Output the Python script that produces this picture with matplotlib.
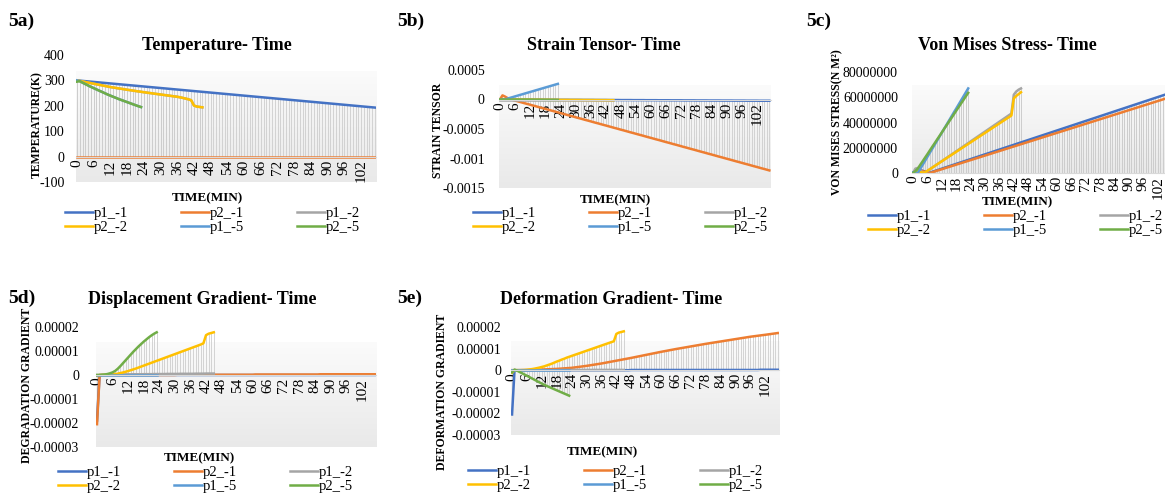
import numpy as np
import matplotlib
matplotlib.use('Agg')
import matplotlib.pyplot as plt
from matplotlib.colors import LinearSegmentedColormap

plt.rcParams['font.family'] = ['Liberation Serif', 'DejaVu Serif']

# ---- categories (minutes) ----
minutes = list(range(108))
x_ticks = list(range(0, 103, 6))
x_tick_labels = [str(t) for t in x_ticks]

series_names = ['p1_-1', 'p2_-1', 'p1_-2', 'p2_-2', 'p1_-5', 'p2_-5']
series_colors = ['#4472C4', '#ED7D31', '#A5A5A5', '#FFC000', '#5B9BD5', '#70AD47']

# ---- 5a temperature (K) ----
temp_p1_1 = [300, 299, 298, 297, 296, 295, 294, 293, 292, 291, 290, 289,
             288, 287, 286, 285, 284, 283, 282, 281, 280, 279, 278, 277,
             276, 275, 274, 273, 272, 271, 270, 269, 268, 267, 266, 265,
             264, 263, 262, 261, 260, 259, 258, 257, 256, 255, 254, 253,
             252, 251, 250, 249, 248, 247, 246, 245, 244, 243, 242, 241,
             240, 239, 238, 237, 236, 235, 234, 233, 232, 231, 230, 229,
             228, 227, 226, 225, 224, 223, 222, 221, 220, 219, 218, 217,
             216, 215, 214, 213, 212, 211, 210, 209, 208, 207, 206, 205,
             204, 203, 202, 201, 200, 199, 198, 197, 196, 195, 194, 193]
temp_p2_1 = [0, 0, 0, 0, 0, 0, 0, 0, 0, 0, 0, 0,
             0, 0, 0, 0, 0, 0, 0, 0, 0, 0, 0, 0,
             0, 0, 0, 0, 0, 0, 0, 0, 0, 0, 0, 0,
             0, 0, 0, 0, 0, 0, 0, 0, 0, 0, 0, 0,
             0, 0, 0, 0, 0, 0, 0, 0, 0, 0, 0, 0,
             0, 0, 0, 0, 0, 0, 0, 0, 0, 0, 0, 0,
             0, 0, 0, 0, 0, 0, 0, 0, 0, 0, 0, 0,
             0, 0, 0, 0, 0, 0, 0, 0, 0, 0, 0, 0,
             0, 0, 0, 0, 0, 0, 0, 0, 0, 0, 0, 0]
temp_p1_2 = [300, 298, 295.8, 293.6, 291.4, 289.2, 287, 284.8, 282.6, 280.4,
             278.2, 276, 273.8, 272, 270.2, 268.5, 266.8, 265, 263.3, 261.6,
             260, 258.3, 256.7, 255.1, 253.5, 252, 250.5, 249, 247.5, 246,
             244.5, 243, 241.5, 240, 238.5, 237, 235.5, 233.5, 231, 228.5,
             225.5, 222, 201, 197, 195.5, 194]
temp_p2_2 = [300, 298, 295.8, 293.6, 291.4, 289.2, 287, 284.8, 282.6, 280.4,
             278.2, 276, 273.8, 272, 270.2, 268.5, 266.8, 265, 263.3, 261.6,
             260, 258.3, 256.7, 255.1, 253.5, 252, 250.5, 249, 247.5, 246,
             244.5, 243, 241.5, 240, 238.5, 237, 235.5, 233.5, 231, 228.5,
             225.5, 222, 201, 197, 195.5, 194]
temp_p1_5 = [300, 297, 291, 285.5, 280, 274.5, 269.5, 264.5, 259.5, 254.5,
             249.5, 244.5, 240, 235.5, 231, 226.5, 222.5, 218.5, 214.5, 210.5,
             206.5, 202.5, 198.5, 195]
temp_p2_5 = [295, 297, 291, 285.5, 280, 274.5, 269.5, 264.5, 259.5, 254.5,
             249.5, 244.5, 240, 235.5, 231, 226.5, 222.5, 218.5, 214.5, 210.5,
             206.5, 202.5, 198.5, 195]

# ---- 5b strain tensor (x 1e-4) ----
strain_p1_1 = [0.00, 0.00, 0.00, -0.01, -0.01, -0.01, -0.01, -0.01, -0.02, -0.02,
               -0.02, -0.02, -0.02, -0.03, -0.03, -0.03, -0.03, -0.03, -0.04, -0.04,
               -0.04, -0.04, -0.04, -0.05, -0.05, -0.05, -0.05, -0.05, -0.06, -0.06,
               -0.06, -0.06, -0.06, -0.07, -0.07, -0.07, -0.07, -0.07, -0.08, -0.08,
               -0.08, -0.08, -0.08, -0.09, -0.09, -0.09, -0.09, -0.09, -0.10, -0.10,
               -0.10, -0.10, -0.10, -0.11, -0.11, -0.11, -0.11, -0.11, -0.12, -0.12,
               -0.12, -0.12, -0.12, -0.13, -0.13, -0.13, -0.13, -0.13, -0.14, -0.14,
               -0.14, -0.14, -0.14, -0.15, -0.15, -0.15, -0.15, -0.15, -0.16, -0.16,
               -0.16, -0.16, -0.16, -0.17, -0.17, -0.17, -0.17, -0.17, -0.18, -0.18,
               -0.18, -0.18, -0.18, -0.19, -0.19, -0.19, -0.19, -0.19, -0.20, -0.20,
               -0.20, -0.20, -0.20, -0.21, -0.21, -0.21, -0.21, -0.21]
strain_p2_1 = [0.00, 0.70, 0.50, 0.25, 0.05, -0.07, -0.19, -0.30, -0.42, -0.54,
               -0.66, -0.77, -0.89, -1.01, -1.12, -1.24, -1.36, -1.48, -1.59, -1.71,
               -1.83, -1.94, -2.06, -2.18, -2.30, -2.41, -2.53, -2.65, -2.76, -2.88,
               -3.00, -3.12, -3.23, -3.35, -3.47, -3.58, -3.70, -3.82, -3.94, -4.05,
               -4.17, -4.29, -4.40, -4.52, -4.64, -4.76, -4.87, -4.99, -5.11, -5.22,
               -5.34, -5.46, -5.58, -5.69, -5.81, -5.93, -6.04, -6.16, -6.28, -6.40,
               -6.51, -6.63, -6.75, -6.86, -6.98, -7.10, -7.22, -7.33, -7.45, -7.57,
               -7.68, -7.80, -7.92, -8.04, -8.15, -8.27, -8.39, -8.50, -8.62, -8.74,
               -8.86, -8.97, -9.09, -9.21, -9.32, -9.44, -9.56, -9.68, -9.79, -9.91,
               -10.03, -10.14, -10.26, -10.38, -10.50, -10.61, -10.73, -10.85, -10.96, -11.08,
               -11.20, -11.32, -11.43, -11.55, -11.67, -11.78, -11.90, -12.02]
strain_p1_2 = [0.00, 0.00, 0.00, 0.00, 0.00, 0.00, 0.00, 0.00, 0.00, 0.00,
               0.00, 0.00, 0.00, 0.00, 0.00, 0.00, 0.00, 0.00, 0.00, 0.00,
               0.00, 0.00, 0.00, 0.00, 0.00, 0.00, 0.00, 0.00, 0.00, 0.00,
               0.00, 0.00, 0.00, 0.00, 0.00, 0.00, 0.00, 0.00, 0.00, 0.00,
               0.00, 0.00, 0.00, 0.00, 0.00, 0.00]
strain_p2_2 = [0.00, 0.00, 0.00, 0.00, -0.01, -0.01, -0.01, -0.01, -0.02, -0.02,
               -0.02, -0.02, -0.03, -0.03, -0.03, -0.03, -0.04, -0.04, -0.04, -0.04,
               -0.05, -0.05, -0.05, -0.05, -0.06, -0.06, -0.06, -0.06, -0.07, -0.07,
               -0.07, -0.07, -0.08, -0.08, -0.08, -0.08, -0.09, -0.09, -0.09, -0.09,
               -0.10, -0.10, -0.10, -0.10, -0.11, -0.11]
strain_p1_5 = [0.00, 0.00, 0.02, 0.15, 0.28, 0.40, 0.53, 0.65, 0.78, 0.90,
               1.03, 1.15, 1.28, 1.40, 1.53, 1.65, 1.78, 1.90, 2.03, 2.15,
               2.28, 2.40, 2.53, 2.65]
strain_p2_5 = [0.00, 0.00, -0.01, -0.01, -0.01, -0.02, -0.02, -0.02, -0.03, -0.03,
               -0.03, -0.04, -0.04, -0.04, -0.05, -0.05, -0.05, -0.06, -0.06, -0.06,
               -0.07, -0.07, -0.07, -0.08]

# ---- 5c von mises stress (x 1e6 N/m2) ----
vm_p1_1 = [0.0, 2.0, 2.5, 2.2, 1.8, 1.2, 0.7, 0.3, 0.93, 1.56,
           2.19, 2.82, 3.45, 4.08, 4.71, 5.34, 5.97, 6.60, 7.23, 7.86,
           8.49, 9.12, 9.75, 10.38, 11.01, 11.64, 12.27, 12.90, 13.53, 14.16,
           14.79, 15.42, 16.05, 16.68, 17.31, 17.94, 18.57, 19.20, 19.83, 20.46,
           21.09, 21.72, 22.35, 22.98, 23.61, 24.24, 24.87, 25.50, 26.13, 26.76,
           27.39, 28.02, 28.65, 29.28, 29.91, 30.54, 31.17, 31.80, 32.43, 33.06,
           33.69, 34.32, 34.95, 35.58, 36.21, 36.84, 37.47, 38.10, 38.73, 39.36,
           39.99, 40.62, 41.25, 41.88, 42.51, 43.14, 43.77, 44.40, 45.03, 45.66,
           46.29, 46.92, 47.55, 48.18, 48.81, 49.44, 50.07, 50.70, 51.33, 51.96,
           52.59, 53.22, 53.85, 54.48, 55.11, 55.74, 56.37, 57.00, 57.63, 58.26,
           58.89, 59.52, 60.15, 60.78, 61.41, 62.04, 62.67, 63.30]
vm_p2_1 = [0.0, 1.8, 2.2, 2.0, 1.5, 1.0, 0.5, 0.0, 0.6, 1.2,
           1.8, 2.4, 3.0, 3.6, 4.2, 4.8, 5.4, 6.0, 6.6, 7.2,
           7.8, 8.4, 9.0, 9.6, 10.2, 10.8, 11.4, 12.0, 12.6, 13.2,
           13.8, 14.4, 15.0, 15.6, 16.2, 16.8, 17.4, 18.0, 18.6, 19.2,
           19.8, 20.4, 21.0, 21.6, 22.2, 22.8, 23.4, 24.0, 24.6, 25.2,
           25.8, 26.4, 27.0, 27.6, 28.2, 28.8, 29.4, 30.0, 30.6, 31.2,
           31.8, 32.4, 33.0, 33.6, 34.2, 34.8, 35.4, 36.0, 36.6, 37.2,
           37.8, 38.4, 39.0, 39.6, 40.2, 40.8, 41.4, 42.0, 42.6, 43.2,
           43.8, 44.4, 45.0, 45.6, 46.2, 46.8, 47.4, 48.0, 48.6, 49.2,
           49.8, 50.4, 51.0, 51.6, 52.2, 52.8, 53.4, 54.0, 54.6, 55.2,
           55.8, 56.4, 57.0, 57.6, 58.2, 58.8, 59.4, 60.0]
vm_p1_2 = [0.0, 3.5, 4.0, 2.0, 0.5, 0.3, 1.6, 2.9, 4.2, 5.5,
           6.8, 8.1, 9.4, 10.7, 12.0, 13.3, 14.6, 15.9, 17.2, 18.5,
           19.8, 21.1, 22.4, 23.7, 25.0, 26.3, 27.6, 28.9, 30.2, 31.5,
           32.8, 34.1, 35.4, 36.7, 38.0, 39.3, 40.6, 41.9, 43.2, 44.5,
           45.8, 47.1, 62.0, 64.5, 66.0, 67.0]
vm_p2_2 = [0.0, 1.0, 1.5, 0.8, 0.3, 0.5, 1.75, 3.0, 4.25, 5.5,
           6.75, 8.0, 9.25, 10.5, 11.75, 13.0, 14.25, 15.5, 16.75, 18.0,
           19.25, 20.5, 21.75, 23.0, 24.25, 25.5, 26.75, 28.0, 29.25, 30.5,
           31.75, 33.0, 34.25, 35.5, 36.75, 38.0, 39.25, 40.5, 41.75, 43.0,
           44.25, 45.5, 59.0, 61.0, 62.5, 64.0]
vm_p1_5 = [0.5, 0.2, 0.0, 3.2, 6.4, 9.6, 12.8, 16.0, 19.1, 22.3,
           25.5, 28.7, 31.9, 35.1, 38.3, 41.5, 44.7, 47.9, 51.0, 54.2,
           57.4, 60.6, 63.8, 67.0]
vm_p2_5 = [0.0, 1.5, 3.5, 6.4, 9.2, 12.1, 14.9, 17.8, 20.7, 23.5,
           26.4, 29.2, 32.1, 35.0, 37.8, 40.7, 43.5, 46.4, 49.3, 52.1,
           55.0, 57.8, 60.7, 63.5]

# ---- 5d displacement gradient (x 1e-6) ----
disp_p1_1 = [-19.0, 0.0, 0.0, 0.0, 0.0, 0.0, 0.0, 0.0, 0.0, 0.0, 0.0, 0.0,
             0.0, 0.0, 0.0, 0.0, 0.0, 0.0, 0.0, 0.0, 0.0, 0.0, 0.0, 0.0,
             0.0, 0.0, 0.0, 0.0, 0.0, 0.0, 0.0, 0.0, 0.0, 0.0, 0.0, 0.0,
             0.0, 0.0, 0.0, 0.0, 0.0, 0.0, 0.0, 0.0, 0.0, 0.0, 0.0, 0.0,
             0.0, 0.0, 0.0, 0.0, 0.0, 0.0, 0.0, 0.0, 0.0, 0.0, 0.0, 0.0,
             0.0, 0.0, 0.0, 0.0, 0.0, 0.0, 0.0, 0.0, 0.0, 0.0, 0.0, 0.0,
             0.0, 0.0, 0.0, 0.0, 0.0, 0.0, 0.0, 0.0, 0.0, 0.0, 0.0, 0.0,
             0.0, 0.0, 0.0, 0.0, 0.0, 0.0, 0.0, 0.0, 0.0, 0.0, 0.0, 0.0,
             0.0, 0.0, 0.0, 0.0, 0.0, 0.0, 0.0, 0.0, 0.0, 0.0, 0.0, 0.0]
disp_p2_1 = [-20.5, -0.2, 0.0, 0.0, 0.0, 0.0, 0.0, 0.0, 0.0, 0.0, 0.0, 0.0,
             0.0, 0.0, 0.0, 0.0, 0.0, 0.0, 0.0, 0.0, 0.0, 0.0, 0.0, 0.0,
             0.0, 0.0, 0.0, 0.0, 0.0, 0.0, 0.0, 0.1, 0.1, 0.1, 0.1, 0.1,
             0.1, 0.1, 0.1, 0.1, 0.1, 0.1, 0.1, 0.1, 0.1, 0.1, 0.1, 0.1,
             0.1, 0.1, 0.1, 0.1, 0.1, 0.1, 0.1, 0.1, 0.1, 0.1, 0.1, 0.1,
             0.1, 0.2, 0.2, 0.2, 0.2, 0.2, 0.2, 0.2, 0.2, 0.2, 0.2, 0.2,
             0.2, 0.2, 0.2, 0.2, 0.2, 0.2, 0.2, 0.2, 0.2, 0.2, 0.2, 0.2,
             0.2, 0.2, 0.3, 0.3, 0.3, 0.3, 0.3, 0.3, 0.3, 0.3, 0.3, 0.3,
             0.3, 0.3, 0.3, 0.3, 0.3, 0.3, 0.3, 0.3, 0.3, 0.3, 0.3, 0.3]
disp_p1_2 = [0.0, 0.0, 0.0, 0.05, 0.1, 0.1, 0.15, 0.15, 0.2, 0.2,
             0.2, 0.25, 0.25, 0.25, 0.3, 0.3, 0.3, 0.3, 0.35, 0.35,
             0.35, 0.35, 0.4, 0.4, 0.4, 0.4, 0.4, 0.45, 0.45, 0.45,
             0.45, 0.45, 0.5, 0.5, 0.5, 0.5, 0.5, 0.5, 0.55, 0.55,
             0.55, 0.55, 0.6, 0.6, 0.6, 0.6]
disp_p2_2 = [-0.3, 0.0, 0.0, 0.0, 0.05, 0.1, 0.2, 0.35, 0.55, 0.8,
             1.05, 1.35, 1.65, 2.0, 2.35, 2.7, 3.1, 3.5, 3.9, 4.3,
             4.7, 5.1, 5.5, 5.9, 6.3, 6.7, 7.1, 7.5, 7.9, 8.3,
             8.7, 9.1, 9.5, 9.9, 10.3, 10.7, 11.1, 11.5, 11.9, 12.3,
             12.7, 13.2, 16.6, 17.2, 17.5, 17.8]
disp_p1_5 = [0.0, 0.0, 0.0, 0.0, 0.0, 0.0, 0.0, 0.0, 0.0, 0.0,
             0.0, 0.0, 0.0, 0.0, 0.0, 0.0, 0.0, 0.0, 0.0, 0.0,
             0.0, 0.0, 0.0, 0.0]
disp_p2_5 = [0.0, 0.0, 0.1, 0.2, 0.4, 0.7, 1.1, 1.7, 2.6, 3.7,
             4.9, 6.1, 7.3, 8.5, 9.7, 10.8, 11.9, 12.9, 13.9, 14.8,
             15.7, 16.5, 17.2, 17.8]

# ---- 5e deformation gradient (x 1e-6) ----
def_p1_1 = [-20.5, 0.0, 0.0, 0.0, 0.0, 0.0, 0.0, 0.0, 0.0, 0.0, 0.0, 0.0,
            0.0, 0.0, 0.0, 0.0, 0.0, 0.0, 0.0, 0.0, 0.0, 0.0, 0.0, 0.0,
            0.0, 0.0, 0.0, 0.0, 0.0, 0.0, 0.0, 0.0, 0.0, 0.0, 0.0, 0.0,
            0.0, 0.0, 0.0, 0.0, 0.0, 0.0, 0.0, 0.0, 0.0, 0.0, 0.0, 0.0,
            0.1, 0.1, 0.1, 0.1, 0.1, 0.1, 0.1, 0.1, 0.1, 0.1, 0.1, 0.1,
            0.1, 0.1, 0.1, 0.1, 0.1, 0.1, 0.1, 0.1, 0.1, 0.1, 0.1, 0.1,
            0.1, 0.1, 0.1, 0.1, 0.1, 0.1, 0.1, 0.1, 0.1, 0.1, 0.1, 0.1,
            0.1, 0.1, 0.1, 0.1, 0.1, 0.1, 0.1, 0.1, 0.1, 0.1, 0.1, 0.1,
            0.1, 0.1, 0.1, 0.1, 0.2, 0.2, 0.2, 0.2, 0.2, 0.2, 0.2, 0.2]
def_p2_1 = [0.00, 0.00, 0.01, 0.02, 0.03, 0.04,
            0.05, 0.08, 0.12, 0.17, 0.21, 0.25,
            0.30, 0.35, 0.40, 0.45, 0.50, 0.55,
            0.60, 0.68, 0.76, 0.85, 0.93, 1.01,
            1.10, 1.25, 1.40, 1.55, 1.70, 1.85,
            2.00, 2.18, 2.37, 2.55, 2.73, 2.92,
            3.10, 3.32, 3.53, 3.75, 3.97, 4.18,
            4.40, 4.62, 4.83, 5.05, 5.27, 5.48,
            5.70, 5.93, 6.17, 6.40, 6.63, 6.87,
            7.10, 7.33, 7.57, 7.80, 8.03, 8.27,
            8.50, 8.72, 8.93, 9.15, 9.37, 9.58,
            9.80, 10.00, 10.20, 10.40, 10.60, 10.80,
            11.00, 11.20, 11.40, 11.60, 11.80, 12.00,
            12.20, 12.38, 12.57, 12.75, 12.93, 13.12,
            13.30, 13.48, 13.67, 13.85, 14.03, 14.22,
            14.40, 14.58, 14.77, 14.95, 15.13, 15.32,
            15.50, 15.65, 15.80, 15.95, 16.10, 16.25,
            16.40, 16.56, 16.72, 16.88, 17.04, 17.20]
def_p1_2 = [0.0, 0.0, 0.0, 0.0, 0.0, 0.0, 0.0, 0.0, 0.0, 0.0,
            0.0, 0.0, 0.0, 0.0, 0.0, 0.0, 0.0, 0.0, 0.0, 0.0,
            0.1, 0.1, 0.1, 0.1, 0.1, 0.1, 0.1, 0.1, 0.1, 0.1,
            0.1, 0.1, 0.1, 0.1, 0.1, 0.1, 0.1, 0.1, 0.1, 0.1,
            0.1, 0.1, 0.1, 0.1, 0.1, 0.1]
def_p2_2 = [-1.2, 0.0, 0.0, 0.0, 0.05, 0.1, 0.2, 0.35, 0.5, 0.7,
            0.95, 1.2, 1.5, 1.8, 2.2, 2.6, 3.0, 3.5, 4.0, 4.4,
            4.9, 5.3, 5.8, 6.2, 6.6, 7.0, 7.4, 7.8, 8.2, 8.6,
            9.0, 9.4, 9.8, 10.2, 10.6, 11.0, 11.4, 11.8, 12.2, 12.6,
            13.0, 13.4, 16.8, 17.4, 17.7, 18.0]
def_p1_5 = [0.0, 0.0, 0.0, 0.0, 0.0, 0.0, 0.0, 0.0, 0.0, 0.0,
            0.0, 0.0, 0.0, 0.0, 0.0, 0.0, 0.0, 0.0, 0.0, 0.0,
            0.0, 0.0, 0.0, 0.0]
def_p2_5 = [-1.0, 0.3, -0.2, -0.8, -1.4, -2.0, -2.6, -3.2, -3.8, -4.4,
            -5.0, -5.6, -6.2, -6.8, -7.3, -7.8, -8.3, -8.8, -9.3, -9.8,
            -10.3, -10.8, -11.3, -11.8]

# y axis ticks
temp_yticks = [-100, 0, 100, 200, 300, 400]
temp_ylabels = ['-100', '0', '100', '200', '300', '400']
strain_yticks = [-0.0015, -0.001, -0.0005, 0, 0.0005]
strain_ylabels = ['-0.0015', '-0.001', '-0.0005', '0', '0.0005']
vm_yticks = [0, 2e7, 4e7, 6e7, 8e7]
vm_ylabels = ['0', '20000000', '40000000', '60000000', '80000000']
grad_yticks = [-3e-5, -2e-5, -1e-5, 0, 1e-5, 2e-5]
grad_ylabels = ['-0.00003', '-0.00002', '-0.00001', '0', '0.00001', '0.00002']

W, H = 1165, 495
fig = plt.figure(figsize=(W / 100, H / 100), dpi=100)
bg_cmap = LinearSegmentedColormap.from_list('bg', ['#e9e9e9', '#fbfbfb'])


def px(x, y):
    return x / W, 1 - y / H


def rect(left, top, right, bottom):
    return [left / W, 1 - bottom / H, (right - left) / W, (bottom - top) / H]


def draw_panel(box, series, scale, ylim, yticks, ylabels, ypad, legend_xy):
    ax = fig.add_axes(box)
    ax.imshow(np.linspace(0, 1, 256).reshape(-1, 1), cmap=bg_cmap, aspect='auto',
              origin='lower', extent=[0, 1, 0, 0.87], transform=ax.transAxes, zorder=0)
    # drop lines from every point to the category axis
    for vals in series:
        y = np.array(vals) * scale
        ax.vlines(minutes[:len(y)], 0, y, color='#cdcdcd', lw=0.6, zorder=1)
    handles = []
    for vals, color in zip(series, series_colors):
        y = np.array(vals) * scale
        h, = ax.plot(minutes[:len(y)], y, color=color, lw=1.8, zorder=2,
                     solid_joinstyle='round')
        handles.append(h)
    ax.set_xlim(-0.5, 107.5)
    ax.set_ylim(*ylim)
    for s in ['top', 'right', 'left']:
        ax.spines[s].set_visible(False)
    ax.spines['bottom'].set_position(('data', 0))
    ax.spines['bottom'].set_color('#d9d9d9')
    ax.set_xticks(x_ticks)
    ax.set_xticklabels(x_tick_labels, rotation=90)
    ax.set_yticks(yticks)
    ax.set_yticklabels(ylabels)
    ax.tick_params(axis='x', length=0, labelsize=11, pad=2)
    ax.tick_params(axis='y', length=0, labelsize=10, pad=ypad)
    order = [0, 3, 1, 4, 2, 5]
    ax.legend([handles[i] for i in order], [series_names[i] for i in order],
              ncol=3, loc='upper left', bbox_to_anchor=px(*legend_xy),
              bbox_transform=fig.transFigure, frameon=False, fontsize=10.5,
              handlelength=1.9, handletextpad=0.1, columnspacing=3.6,
              labelspacing=0.05, borderpad=0, borderaxespad=0)
    return ax


draw_panel(rect(75.6, 55, 376.4, 182),
           [temp_p1_1, temp_p2_1, temp_p1_2, temp_p2_2, temp_p1_5, temp_p2_5],
           1, (-100, 400), temp_yticks, temp_ylabels, 8, (65, 207))
draw_panel(rect(498.7, 70, 770.6, 188),
           [strain_p1_1, strain_p2_1, strain_p1_2, strain_p2_2, strain_p1_5, strain_p2_5],
           1e-4, (-0.0015, 0.0005), strain_yticks, strain_ylabels, 10, (473, 207))
draw_panel(rect(911.8, 72, 1171, 173),
           [vm_p1_1, vm_p2_1, vm_p1_2, vm_p2_2, vm_p1_5, vm_p2_5],
           1e6, (0, 8e7), vm_yticks, vm_ylabels, 10, (868, 210))
draw_panel(rect(95.7, 327, 376, 447),
           [disp_p1_1, disp_p2_1, disp_p1_2, disp_p2_2, disp_p1_5, disp_p2_5],
           1e-6, (-3e-5, 2e-5), grad_yticks, grad_ylabels, 12, (58, 466))
draw_panel(rect(510.8, 327, 779, 435),
           [def_p1_1, def_p2_1, def_p1_2, def_p2_2, def_p1_5, def_p2_5],
           1e-6, (-3e-5, 2e-5), grad_yticks, grad_ylabels, 7, (468, 465))

# panel tags
for tag, (x, y) in [('5a)', (8, 21)), ('5b)', (397, 21)), ('5c)', (806, 21)),
                    ('5d)', (8, 298)), ('5e)', (397, 298))]:
    fig.text(*px(x, y), tag, fontsize=14, weight='bold', ha='left', va='center')

# titles
for title, (x, y) in [('Temperature- Time', (217, 45)), ('Strain Tensor- Time', (604, 46)),
                      ('Von Mises Stress- Time', (1007, 45)),
                      ('Displacement Gradient- Time', (202, 300)),
                      ('Deformation Gradient- Time', (611, 300))]:
    fig.text(*px(x, y), title, fontsize=13, weight='bold', ha='center', va='center')

# x axis titles
for x, y in [(207, 198), (615, 200), (1017, 202), (199, 458), (602, 452)]:
    fig.text(*px(x, y), 'TIME(MIN)', fontsize=9.5, weight='bold', ha='center', va='center')

# y axis titles
for label, (x, y) in [('TEMPERATURE(K)', (37, 125)), ('STRAIN TENSOR', (438, 130)),
                      ('VON MISES STRESS(N M²)', (837, 122)),
                      ('DEGRADATION GRADIENT', (27, 385)),
                      ('DEFORMATION GRADIENT', (442, 392))]:
    fig.text(*px(x, y), label, fontsize=8.5, weight='bold', rotation=90,
             ha='center', va='center')

fig.savefig('out.png', dpi=100)
